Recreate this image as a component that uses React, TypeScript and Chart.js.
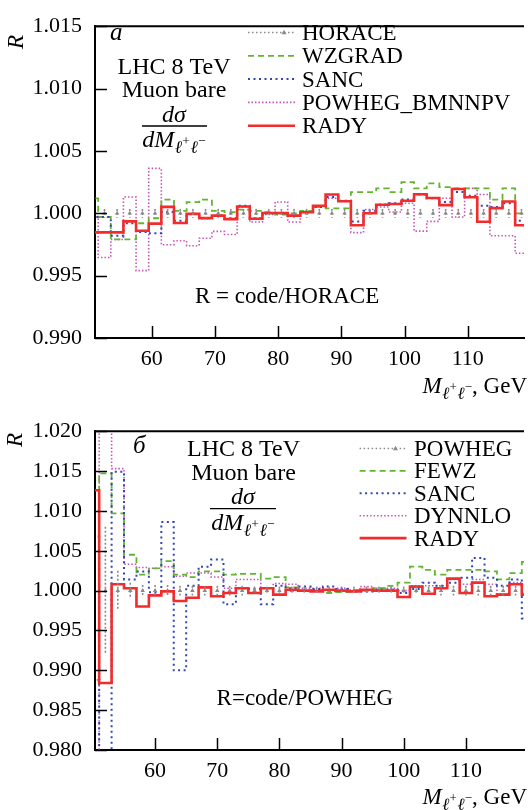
import React, { useEffect, useRef } from "react";
import { Chart, registerables } from "chart.js";

Chart.register(...registerables);

const FONT = '"Liberation Serif", "Times New Roman", Times, serif';

const C_GRAY = "#8a8a8a";
const C_GREEN = "#62b530";
const C_BLUE = "#3346b0";
const C_MAG = "#c654b8";
const C_RED = "#f22b2b";

// ---------------- shared axis ticks ----------------
const xTickValues = [60, 70, 80, 90, 100, 110];

// ---------------- panel a (R = code/HORACE) ----------------
const topYTicks = [0.99, 0.995, 1.0, 1.005, 1.01, 1.015];
const topBinEdges = [49.5, 51.5, 53.5, 55.5, 57.5, 59.5, 61.5, 63.5, 65.5, 67.5, 69.5, 71.5, 73.5, 75.5, 77.5, 79.5, 81.5, 83.5, 85.5, 87.5, 89.5, 91.5, 93.5, 95.5, 97.5, 99.5, 101.5, 103.5, 105.5, 107.5, 109.5, 111.5, 113.5, 115.5, 117.5, 119.5];
const topBinCenters = [50.5, 52.5, 54.5, 56.5, 58.5, 60.5, 62.5, 64.5, 66.5, 68.5, 70.5, 72.5, 74.5, 76.5, 78.5, 80.5, 82.5, 84.5, 86.5, 88.5, 90.5, 92.5, 94.5, 96.5, 98.5, 100.5, 102.5, 104.5, 106.5, 108.5, 110.5, 112.5, 114.5, 116.5, 118.5];
const topHorace = [1, 1, 1, 1, 1, 1, 1, 1, 1, 1, 1, 1, 1, 1, 1, 1, 1, 1, 1, 1, 1, 1, 1, 1, 1, 1, 1, 1, 1, 1, 1, 1, 1, 1, 1];
const topHoraceErr = [0.00035, 0.00035, 0.00035, 0.00035, 0.00035, 0.00035, 0.00035, 0.00035, 0.00035, 0.00035, 0.00035, 0.00035, 0.00035, 0.00035, 0.00035, 0.00035, 0.00035, 0.00035, 0.00035, 0.00035, 0.00035, 0.00035, 0.00035, 0.00035, 0.00035, 0.00035, 0.00035, 0.00035, 0.00035, 0.00035, 0.00035, 0.00035, 0.00035, 0.00035, 0.00035];
const topWzgrad = [1.0012, 0.9997, 0.9979, 0.9979, 0.9992, 0.9996, 1.0011, 1.0002, 1.0009, 1.0011, 1.0002, 1.0001, 1.0003, 1.0002, 1.0001, 0.9999, 1.0, 1.0002, 1.0005, 1.0004, 1.0004, 1.0017, 1.0017, 1.002, 1.0017, 1.0025, 1.002, 1.0024, 1.0021, 1.002, 1.002, 1.002, 1.0011, 1.002, 1.0];
const topSanc = [0.9997, 0.9997, 0.9982, 0.9992, 0.9985, 0.9984, 1.0001, 0.9994, 0.99995, 0.9996, 0.9998, 0.9996, 1.0006, 0.9996, 1.0, 1.0, 0.9998, 1.0001, 1.0005, 1.0013, 1.001, 0.99935, 1.0002, 1.0007, 1.0008, 1.0011, 1.0015, 1.0012, 1.0009, 1.0017, 1.0014, 1.0006, 1.0005, 1.0008, 0.9994];
const topPowhegBmnnpv = [0.9997, 0.99645, 0.9979, 1.0013, 0.9954, 1.0036, 0.99748, 0.9978, 0.9974, 0.998, 0.99855, 0.9983, 1.0005, 0.9993, 0.9999, 1.0009, 0.9993, 1.0002, 1.0006, 1.0012, 1.001, 0.99845, 1.0003, 1.0005, 1.0001, 1.0008, 0.99857, 0.99935, 1.0012, 0.9997, 1.002, 1.0015, 0.9982, 0.9982, 0.9968];
const topRady = [0.99847, 0.99847, 0.99847, 0.99935, 0.9986, 0.99917, 1.00051, 0.99922, 0.99995, 0.99961, 0.99981, 0.99953, 1.00054, 0.99956, 1.00002, 1.00002, 0.99981, 1.00008, 1.0006, 1.0015, 1.00097, 0.99904, 1.0, 1.00068, 1.00075, 1.001, 1.00152, 1.00122, 1.00065, 1.00195, 1.00128, 0.99932, 1.00041, 1.00095, 0.99904];
const topLabels = ["HORACE", "WZGRAD", "SANC", "POWHEG_BMNNPV", "RADY"];

// ---------------- panel б (R = code/POWHEG) ----------------
const botYTicks = [0.98, 0.985, 0.99, 0.995, 1.0, 1.005, 1.01, 1.015, 1.02];
const botBinEdges = [49, 51, 53, 55, 57, 59, 61, 63, 65, 67, 69, 71, 73, 75, 77, 79, 81, 83, 85, 87, 89, 91, 93, 95, 97, 99, 101, 103, 105, 107, 109, 111, 113, 115, 117, 119, 121];
const botBinCenters = [50, 52, 54, 56, 58, 60, 62, 64, 66, 68, 70, 72, 74, 76, 78, 80, 82, 84, 86, 88, 90, 92, 94, 96, 98, 100, 102, 104, 106, 108, 110, 112, 114, 116, 118, 120];
const botPowheg = [1, 1, 1, 1, 1, 1, 1, 1, 1, 1, 1, 1, 1, 1, 1, 1, 1, 1, 1, 1, 1, 1, 1, 1, 1, 1, 1, 1, 1, 1, 1, 1, 1, 1, 1, 1];
const botPowhegErr = [0.008, 0.008, 0.0025, 0.001, 0.0007, 0.0007, 0.0007, 0.0006, 0.0006, 0.0006, 0.0006, 0.0006, 0.0006, 0.0005, 0.0005, 0.0005, 0.0005, 0.0005, 0.0005, 0.0005, 0.0005, 0.0005, 0.0005, 0.0005, 0.0005, 0.0005, 0.0005, 0.0005, 0.0006, 0.0006, 0.0006, 0.0006, 0.0006, 0.0006, 0.0006, 0.0006];
const botFewz = [0.9888, 1.0147, 1.0097, 1.0045, 1.002, 1.0028, 1.0037, 1.002, 1.0017, 1.0024, 1.0024, 1.002, 1.0021, 1.0021, 1.0015, 1.0017, 1.0004, 1.0, 1.0001, 0.9997, 0.9998, 1.0001, 1.0, 1.0003, 1.0006, 1.001, 1.003, 1.0026, 1.002, 1.0026, 1.0026, 1.0026, 1.0024, 1.0014, 1.0022, 1.0036];
const botSanc = [1.0068, 0.975, 1.0149, 1.0014, 1.0024, 0.9998, 1.0086, 0.99, 1.0006, 1.003, 1.0039, 0.9983, 1.0003, 1.0002, 0.9983, 1.0006, 1.0003, 1.0005, 1.0002, 1.0005, 1.0002, 0.9999, 0.9999, 1.0001, 1.0001, 0.9997, 1.0002, 1.001, 1.0006, 1.001, 1.0016, 1.0041, 1.0016, 1.0006, 1.0014, 0.9965];
const botDynnlo = [0.975, 1.025, 1.0153, 1.0033, 1.0029, 1.0028, 1.003, 1.0018, 1.0022, 1.0022, 1.0017, 1.0003, 1.0014, 1.0014, 1.0003, 1.0009, 1.0008, 1.0003, 1.0003, 1.0001, 1.0003, 1.0001, 1.0005, 1.0003, 1.0003, 1.0, 1.0006, 1.0006, 1.0006, 1.0014, 1.0008, 1.0014, 1.0008, 0.9996, 1.001, 0.9997];
const botRady = [1.0126, 0.9884, 1.0008, 1.0003, 0.998, 0.9994, 0.9999, 0.9987, 0.9991, 1.0004, 0.9993, 0.9997, 1.0003, 0.9997, 1.0003, 0.9995, 1.0001, 1.0, 0.9999, 1.0001, 1.0, 0.9999, 1.0001, 1.0, 1.0, 0.9992, 1.0005, 0.9996, 1.0003, 1.0015, 0.9997, 1.001, 0.9993, 0.9995, 1.0008, 0.9995];
const botLabels = ["POWHEG", "FEWZ", "SANC", "DYNNLO", "RADY"];

// ---------------- helpers ----------------
type Style = { color: string; width: number; dash: number[]; order: number; marker?: boolean };
type Series = { label: string; values: number[]; style: Style };
type Piece = { t: string; italic?: boolean; scale: number; dy: number; gap?: number };

const STY_REF: Style = { color: C_GRAY, width: 1.5, dash: [1.5, 2.5], order: 1, marker: true };
const STY_GREEN: Style = { color: C_GREEN, width: 1.8, dash: [6, 4], order: 3 };
const STY_BLUE: Style = { color: C_BLUE, width: 2, dash: [2, 3.5], order: 2 };
const STY_MAG: Style = { color: C_MAG, width: 1.6, dash: [1.5, 2], order: 4 };
const STY_RED: Style = { color: C_RED, width: 2.6, dash: [], order: 0 };

type Spec = {
  canvasTop: number;
  height: number;
  areaTop: number;
  areaBottom: number;
  xMin: number;
  xMax: number;
  yMin: number;
  yMax: number;
  yTicks: number[];
  edges: number[];
  centers: number[];
  ref: Series;
  refErr: number[];
  series: Series[];
  legendOrder: string[];
  letter: { t: string; x: number; y: number };
  lhc: { x: number; y1: number; y2: number };
  frac: { cx: number; num: number; lineY: number; x0: number; x1: number; den: number };
  note: { t: string; x: number; y: number };
  legend: { x0: number; x1: number; tx: number; base: number; dy: number };
  ytitle: { x: number; y: number };
  xtitle: { right: number; base: number };
};

function setFont(ctx: CanvasRenderingContext2D, size: number, italic?: boolean) {
  ctx.font = `${italic ? "italic " : ""}${size}px ${FONT}`;
}

const SUB_LL: Piece[] = [
  { t: "\u2113", italic: true, scale: 0.74, dy: 0.24, gap: 0.01 },
  { t: "+", scale: 0.56, dy: -0.08, gap: 0.03 },
  { t: "\u2113", italic: true, scale: 0.74, dy: 0.24, gap: 0.01 },
  { t: "\u2212", scale: 0.56, dy: -0.08 },
];

function piecesWidth(ctx: CanvasRenderingContext2D, pieces: Piece[], size: number) {
  let w = 0;
  for (const p of pieces) {
    setFont(ctx, size * p.scale, p.italic);
    w += ctx.measureText(p.t).width + (p.gap || 0) * size;
  }
  return w;
}

function drawPieces(ctx: CanvasRenderingContext2D, pieces: Piece[], x: number, base: number, size: number) {
  for (const p of pieces) {
    setFont(ctx, size * p.scale, p.italic);
    ctx.fillText(p.t, x, base + p.dy * size);
    x += ctx.measureText(p.t).width + (p.gap || 0) * size;
  }
  return x;
}

function stepPoints(edges: number[], vals: number[]) {
  const pts = vals.map((v, i) => ({ x: edges[i], y: v }));
  pts.push({ x: edges[vals.length], y: vals[vals.length - 1] });
  return pts;
}

function drawTriangle(ctx: CanvasRenderingContext2D, x: number, y: number, r: number) {
  ctx.beginPath();
  ctx.moveTo(x, y - r);
  ctx.lineTo(x + r * 0.9, y + r * 0.6);
  ctx.lineTo(x - r * 0.9, y + r * 0.6);
  ctx.closePath();
  ctx.fill();
}

function makePlugin(spec: Spec) {
  const T = spec.canvasTop;
  return {
    id: "decor",
    afterDatasetsDraw(chart: any) {
      const { ctx, chartArea: a, scales } = chart;
      const xs = scales.x;
      const ys = scales.y;
      ctx.save();
      ctx.beginPath();
      ctx.rect(a.left, a.top, a.right - a.left, a.bottom - a.top);
      ctx.clip();
      ctx.strokeStyle = C_GRAY;
      ctx.lineWidth = 1.6;
      ctx.setLineDash([2, 2]);
      spec.centers.forEach((c, i) => {
        const px = xs.getPixelForValue(c);
        const v = spec.ref.values[i];
        const e = spec.refErr[i];
        ctx.beginPath();
        ctx.moveTo(px, ys.getPixelForValue(v + e));
        ctx.lineTo(px, ys.getPixelForValue(v - e));
        ctx.stroke();
      });
      ctx.restore();
    },
    afterDraw(chart: any) {
      const { ctx, chartArea: a, scales } = chart;
      const xs = scales.x;
      const ys = scales.y;
      ctx.save();
      // top frame line
      ctx.strokeStyle = "#000";
      ctx.lineWidth = 2;
      ctx.setLineDash([]);
      ctx.beginPath();
      ctx.moveTo(a.left - 1, a.top);
      ctx.lineTo(a.right, a.top);
      ctx.stroke();
      // inward ticks
      ctx.lineWidth = 1.5;
      ys.ticks.forEach((t: any) => {
        const py = Math.round(ys.getPixelForValue(t.value)) + 0.5;
        ctx.beginPath();
        ctx.moveTo(a.left, py);
        ctx.lineTo(a.left + 12, py);
        ctx.stroke();
      });
      xs.ticks.forEach((t: any) => {
        const px = Math.round(xs.getPixelForValue(t.value)) + 0.5;
        ctx.beginPath();
        ctx.moveTo(px, a.bottom);
        ctx.lineTo(px, a.bottom - 12);
        ctx.stroke();
      });

      ctx.fillStyle = "#000";
      ctx.textBaseline = "alphabetic";
      // panel letter
      ctx.textAlign = "left";
      setFont(ctx, 25, true);
      ctx.fillText(spec.letter.t, spec.letter.x, spec.letter.y - T);
      // LHC text
      ctx.textAlign = "center";
      setFont(ctx, 24);
      ctx.fillText("LHC 8 TeV", spec.lhc.x, spec.lhc.y1 - T);
      ctx.fillText("Muon bare", spec.lhc.x, spec.lhc.y2 - T);
      // fraction
      setFont(ctx, 24, true);
      ctx.fillText("d\u03C3", spec.frac.cx, spec.frac.num - T);
      ctx.lineWidth = 1.3;
      ctx.beginPath();
      ctx.moveTo(spec.frac.x0, spec.frac.lineY - T);
      ctx.lineTo(spec.frac.x1, spec.frac.lineY - T);
      ctx.stroke();
      ctx.textAlign = "left";
      const denPieces: Piece[] = [{ t: "dM", italic: true, scale: 1, dy: 0, gap: 0.02 }, ...SUB_LL];
      const dw = piecesWidth(ctx, denPieces, 24);
      drawPieces(ctx, denPieces, spec.frac.cx - dw / 2, spec.frac.den - T, 24);
      // note
      setFont(ctx, 23);
      ctx.fillText(spec.note.t, spec.note.x, spec.note.y - T);
      // legend
      const L = spec.legend;
      const all = [spec.ref, ...spec.series];
      spec.legendOrder.forEach((lab, i) => {
        const s = all.find((q) => q.label === lab)!;
        const base = L.base + i * L.dy - T;
        const ly = base - 7.5;
        ctx.save();
        ctx.strokeStyle = s.style.color;
        ctx.lineWidth = s.style.width;
        ctx.setLineDash(s.style.dash);
        ctx.beginPath();
        ctx.moveTo(L.x0, ly);
        ctx.lineTo(L.x1, ly);
        ctx.stroke();
        if (s.style.marker) {
          ctx.fillStyle = s.style.color;
          drawTriangle(ctx, L.x1 - 11, ly, 2.8);
        }
        ctx.restore();
        setFont(ctx, 23);
        ctx.textAlign = "left";
        ctx.fillText(lab, L.tx, base);
      });
      // y title
      ctx.save();
      ctx.translate(spec.ytitle.x, spec.ytitle.y - T);
      ctx.rotate(-Math.PI / 2);
      ctx.textAlign = "center";
      ctx.textBaseline = "middle";
      setFont(ctx, 23, true);
      ctx.fillText("R", 0, 0);
      ctx.restore();
      // x title
      const xPieces: Piece[] = [
        { t: "M", italic: true, scale: 1, dy: 0, gap: 0.02 },
        ...SUB_LL,
        { t: ", GeV", scale: 1, dy: 0 },
      ];
      const xw = piecesWidth(ctx, xPieces, 23);
      ctx.textAlign = "left";
      drawPieces(ctx, xPieces, spec.xtitle.right - xw, spec.xtitle.base - T, 23);
      ctx.restore();
    },
  };
}

function buildConfig(spec: Spec): any {
  const datasets: any[] = [
    {
      label: spec.ref.label,
      data: spec.centers.map((c, i) => ({ x: c, y: spec.ref.values[i] })),
      showLine: false,
      pointStyle: "triangle",
      pointRadius: 2.6,
      pointBackgroundColor: C_GRAY,
      pointBorderColor: C_GRAY,
      pointBorderWidth: 0,
      borderColor: C_GRAY,
      backgroundColor: C_GRAY,
      order: spec.ref.style.order,
      clip: 0,
    },
    ...spec.series.map((s) => ({
      label: s.label,
      data: stepPoints(spec.edges, s.values),
      stepped: "before",
      borderColor: s.style.color,
      backgroundColor: s.style.color,
      borderWidth: s.style.width,
      borderDash: s.style.dash,
      borderCapStyle: "butt",
      borderJoinStyle: "miter",
      pointRadius: 0,
      fill: false,
      order: s.style.order,
      clip: 0,
    })),
  ];
  const tickFont = { family: FONT, size: 22 };
  return {
    type: "line",
    data: { datasets },
    plugins: [makePlugin(spec)],
    options: {
      animation: false,
      responsive: false,
      maintainAspectRatio: false,
      events: [],
      layout: { padding: { top: spec.areaTop, left: 0, right: 0, bottom: 0 } },
      plugins: { legend: { display: false }, tooltip: { enabled: false } },
      scales: {
        x: {
          type: "linear",
          min: spec.xMin,
          max: spec.xMax,
          afterBuildTicks: (ax: any) => {
            ax.ticks = xTickValues.map((v) => ({ value: v }));
          },
          afterFit: (ax: any) => {
            ax.height = spec.height - spec.areaBottom;
          },
          grid: { display: false, drawTicks: false },
          border: { display: true, color: "#000", width: 2 },
          ticks: {
            font: tickFont,
            color: "#000",
            padding: 8,
            maxRotation: 0,
            autoSkip: false,
            callback: (v: any) => String(v),
          },
        },
        y: {
          type: "linear",
          min: spec.yMin,
          max: spec.yMax,
          afterBuildTicks: (ax: any) => {
            ax.ticks = spec.yTicks.map((v) => ({ value: v }));
          },
          afterFit: (ax: any) => {
            ax.width = 95;
          },
          grid: { display: false, drawTicks: false },
          border: { display: true, color: "#000", width: 2 },
          ticks: {
            font: tickFont,
            color: "#000",
            padding: 13,
            autoSkip: false,
            callback: (v: any) => Number(v).toFixed(3),
          },
        },
      },
    },
  };
}

const topSpec: Spec = {
  canvasTop: 0,
  height: 405,
  areaTop: 15,
  areaBottom: 338,
  xMin: 51.0,
  xMax: 118.9,
  yMin: 0.99,
  yMax: 1.015,
  yTicks: topYTicks,
  edges: topBinEdges,
  centers: topBinCenters,
  ref: { label: topLabels[0], values: topHorace, style: STY_REF },
  refErr: topHoraceErr,
  series: [
    { label: topLabels[1], values: topWzgrad, style: STY_GREEN },
    { label: topLabels[2], values: topSanc, style: STY_BLUE },
    { label: topLabels[3], values: topPowhegBmnnpv, style: STY_MAG },
    { label: topLabels[4], values: topRady, style: STY_RED },
  ],
  legendOrder: topLabels,
  letter: { t: "a", x: 110, y: 40 },
  lhc: { x: 174, y1: 74, y2: 97 },
  frac: { cx: 174, num: 122, lineY: 126, x0: 142, x1: 207, den: 147 },
  note: { t: "R = code/HORACE", x: 195, y: 303 },
  legend: { x0: 248, x1: 295, tx: 302, base: 40, dy: 23.3 },
  ytitle: { x: 17, y: 42 },
  xtitle: { right: 527, base: 393 },
};

const botSpec: Spec = {
  canvasTop: 405,
  height: 405,
  areaTop: 22,
  areaBottom: 345,
  xMin: 50.33,
  xMax: 119.35,
  yMin: 0.98,
  yMax: 1.02,
  yTicks: botYTicks,
  edges: botBinEdges,
  centers: botBinCenters,
  ref: { label: botLabels[0], values: botPowheg, style: STY_REF },
  refErr: botPowhegErr,
  series: [
    { label: botLabels[1], values: botFewz, style: STY_GREEN },
    { label: botLabels[2], values: botSanc, style: STY_BLUE },
    { label: botLabels[3], values: botDynnlo, style: STY_MAG },
    { label: botLabels[4], values: botRady, style: STY_RED },
  ],
  legendOrder: botLabels,
  letter: { t: "\u0431", x: 133, y: 453 },
  lhc: { x: 243.5, y1: 456, y2: 480 },
  frac: { cx: 243, num: 503.5, lineY: 508.7, x0: 210, x1: 276, den: 530 },
  note: { t: "R=code/POWHEG", x: 216.6, y: 704.5 },
  legend: { x0: 359.6, x1: 406.5, tx: 414, base: 456, dy: 22.4 },
  ytitle: { x: 16, y: 440 },
  xtitle: { right: 527, base: 804 },
};

function Panel({ spec }: { spec: Spec }) {
  const ref = useRef<HTMLCanvasElement>(null);
  useEffect(() => {
    const chart = new Chart(ref.current as HTMLCanvasElement, buildConfig(spec));
    return () => chart.destroy();
  }, [spec]);
  return (
    <canvas
      ref={ref}
      width={528}
      height={spec.height}
      style={{ position: "absolute", left: 0, top: spec.canvasTop, width: 528, height: spec.height }}
    />
  );
}

export default function App() {
  return (
    <div style={{ position: "fixed", left: 0, top: 0, width: 528, height: 810, background: "#fff", overflow: "hidden" }}>
      <Panel spec={topSpec} />
      <Panel spec={botSpec} />
    </div>
  );
}
